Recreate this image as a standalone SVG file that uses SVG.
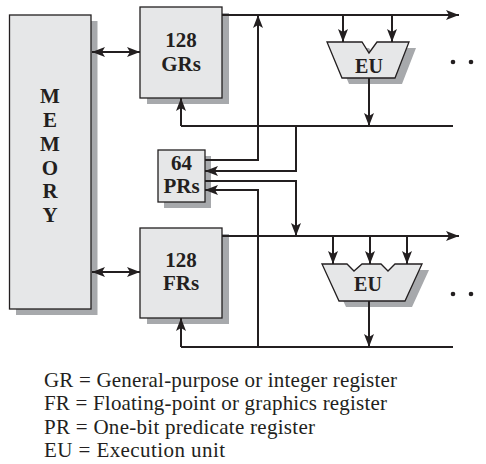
<svg xmlns="http://www.w3.org/2000/svg" width="486" height="464" viewBox="0 0 486 464">
<style>
.box{fill:#e6e7e8;stroke:#231f20;stroke-width:1.3}
.sh{fill:#a7a9ac}
.lbl{font-family:"Liberation Serif","Times New Roman",serif;font-weight:bold;font-size:21px;fill:#231f20;text-anchor:middle}
.leg{font-family:"Liberation Serif","Times New Roman",serif;font-size:21px;fill:#231f20}
.ln{fill:none;stroke:#231f20;stroke-width:2}
.ar{marker-end:url(#ah)}
.dot{fill:#231f20}
</style>
<defs>
<marker id="ah" viewBox="0 0 13 10" refX="13" refY="5" markerWidth="13" markerHeight="10" markerUnits="userSpaceOnUse" orient="auto-start-reverse">
<path d="M0,0 L13,5 L0,10 L3,5 z" fill="#231f20"/>
</marker>
</defs>
<rect x="0" y="0" width="486" height="464" fill="#fff"/>
<g id="memory">
<rect class="sh" x="16" y="21" width="81.5" height="294"/>
<rect class="box" x="9.5" y="15" width="81.5" height="294"/>
<text class="lbl" x="50" y="103">M</text>
<text class="lbl" x="50" y="127">E</text>
<text class="lbl" x="50" y="151">M</text>
<text class="lbl" x="50" y="175">O</text>
<text class="lbl" x="50" y="198">R</text>
<text class="lbl" x="50" y="222">Y</text>
</g>
<g id="grs">
<rect class="sh" x="147" y="13" width="82" height="91"/>
<rect class="box" x="140" y="7" width="82" height="91"/>
<text class="lbl" x="181" y="47">128</text>
<text class="lbl" x="181" y="71">GRs</text>
</g>
<g id="prs">
<rect class="sh" x="164" y="156" width="47" height="52"/>
<rect class="box" x="158" y="150" width="47" height="52"/>
<text class="lbl" x="181.5" y="170">64</text>
<text class="lbl" x="181.5" y="193">PRs</text>
</g>
<g id="frs">
<rect class="sh" x="147" y="234" width="82" height="90"/>
<rect class="box" x="140" y="228" width="82" height="90"/>
<text class="lbl" x="181" y="267">128</text>
<text class="lbl" x="181" y="290">FRs</text>
</g>
<g id="eu1">
<polygon class="sh" points="334,48 369,48 376,59 384,48 416,48 402,84 349,84"/>
<polygon class="box" points="327,42 362,42 369,53 377,42 409,42 395,78 342,78"/>
<text class="lbl" x="369" y="73" style="font-size:20px">EU</text>
</g>
<g id="eu2">
<polygon class="sh" points="329,270 354,270 361,277 369,270 388,270 395,277 402,270 429,270 412,307 346,307"/>
<polygon class="box" points="322,264 347,264 354,271 362,264 381,264 388,271 395,264 422,264 405,301 339,301"/>
<text class="lbl" x="368" y="291" style="font-size:20px">EU</text>
</g>
<g id="connectors">
<line class="ln ar" x1="92" y1="52" x2="140" y2="52" style="marker-start:url(#ah)"/>
<line class="ln ar" x1="92" y1="272" x2="140" y2="272" style="marker-start:url(#ah)"/>
<line class="ln ar" x1="222" y1="15" x2="459" y2="15"/>
<polyline class="ln ar" points="205,160 258,160 258,15"/>
<line class="ln ar" x1="343" y1="15" x2="343" y2="42"/>
<line class="ln ar" x1="392" y1="15" x2="392" y2="42"/>
<line class="ln ar" x1="369" y1="78" x2="369" y2="126"/>
<line class="ln" x1="181" y1="126" x2="453" y2="126"/>
<line class="ln ar" x1="181" y1="126" x2="181" y2="98"/>
<polyline class="ln ar" points="296,126 296,171 205,171"/>
<polyline class="ln ar" points="205,181 296,181 296,236"/>
<line class="ln ar" x1="222" y1="236" x2="459" y2="236"/>
<polyline class="ln ar" points="258,347 258,190 205,190"/>
<line class="ln ar" x1="333" y1="236" x2="333" y2="264"/>
<line class="ln ar" x1="370" y1="236" x2="370" y2="264"/>
<line class="ln ar" x1="407" y1="236" x2="407" y2="264"/>
<line class="ln ar" x1="369" y1="301" x2="369" y2="347"/>
<line class="ln" x1="181" y1="347" x2="453" y2="347"/>
<line class="ln ar" x1="181" y1="347" x2="181" y2="318"/>
</g>
<g id="dots">
<circle class="dot" cx="453" cy="62" r="2.3"/>
<circle class="dot" cx="471" cy="62" r="2.3"/>
<circle class="dot" cx="453" cy="294" r="2.3"/>
<circle class="dot" cx="471" cy="294" r="2.3"/>
</g>
<g id="legend">
<text class="leg" x="44" y="387" textLength="353" lengthAdjust="spacing">GR = General-purpose or integer register</text>
<text class="leg" x="44" y="410" textLength="343" lengthAdjust="spacing">FR = Floating-point or graphics register</text>
<text class="leg" x="44" y="434" textLength="271" lengthAdjust="spacing">PR = One-bit predicate register</text>
<text class="leg" x="44" y="457" textLength="181" lengthAdjust="spacing">EU = Execution unit</text>
</g>
</svg>
